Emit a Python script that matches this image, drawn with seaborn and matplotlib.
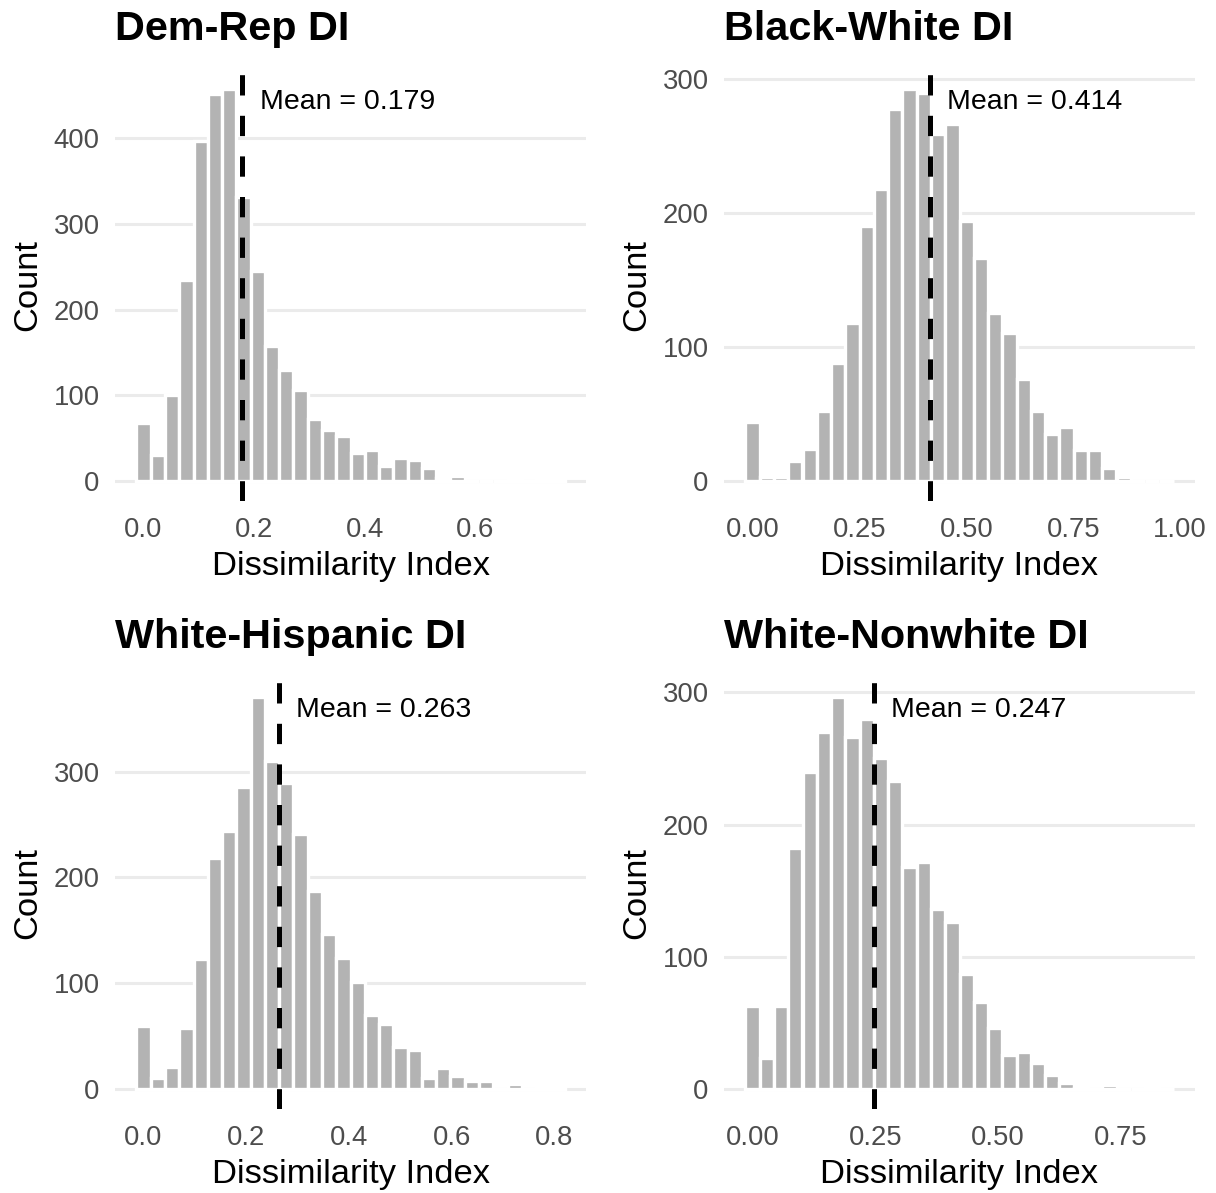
import numpy as np
import pandas as pd
import matplotlib
matplotlib.use("Agg")
import matplotlib.pyplot as plt
import seaborn as sns

# Histogram counts per 30 equal-width bins (bin centres run from x_min to x_max)
dem_rep_counts = [68, 30, 100, 234, 397, 451, 457, 331, 245, 158, 130, 106, 72, 59, 53,
                  33, 36, 18, 27, 24, 15, 4, 6, 0, 0, 0, 1, 0, 1, 1]
black_white_counts = [44, 3, 3, 15, 24, 52, 88, 118, 190, 218, 277, 292, 289, 259, 266,
                      194, 166, 125, 110, 76, 52, 35, 40, 23, 23, 10, 3, 0, 0, 0]
white_hispanic_counts = [60, 11, 21, 58, 123, 218, 244, 285, 370, 310, 289, 241, 187, 147, 124,
                         101, 70, 62, 40, 37, 11, 20, 13, 8, 8, 0, 5, 0, 1, 1]
white_nonwhite_counts = [63, 24, 63, 182, 240, 270, 296, 266, 280, 250, 233, 168, 172, 136, 126,
                         87, 66, 46, 26, 28, 20, 11, 5, 1, 0, 3, 0, 0, 1, 0]

titles = ["Dem-Rep DI", "Black-White DI", "White-Hispanic DI", "White-Nonwhite DI"]
x_min = [0.0, 0.0, 0.0, 0.0]
x_max = [0.749, 0.968, 0.806, 0.843]
means = [0.179, 0.414, 0.263, 0.247]
x_ticks = [[0.0, 0.2, 0.4, 0.6],
           [0.0, 0.25, 0.50, 0.75, 1.00],
           [0.0, 0.2, 0.4, 0.6, 0.8],
           [0.0, 0.25, 0.50, 0.75]]
x_tick_fmt = ["{:.1f}", "{:.2f}", "{:.1f}", "{:.2f}"]
y_ticks = [[0, 100, 200, 300, 400],
           [0, 100, 200, 300],
           [0, 100, 200, 300],
           [0, 100, 200, 300]]
all_counts = [dem_rep_counts, black_white_counts, white_hispanic_counts, white_nonwhite_counts]

sns.set_theme(style="white")
plt.rcParams["font.family"] = ["Liberation Sans", "DejaVu Sans"]

W, H = 1216, 1193
fig = plt.figure(figsize=(W / 100, H / 100), dpi=100)

# panel rectangles in pixels: left, top, right, bottom
panel_px = [(115, 69.7, 586, 500.6), (724, 69.7, 1195, 500.6),
            (115, 677.8, 586, 1108.9), (724, 677.8, 1195, 1108.9)]

BAR = "#B3B3B3"
GRID = "#EBEBEB"
TICK = "#4D4D4D"

for i in range(4):
    l, t, r, b = panel_px[i]
    ax = fig.add_axes([l / W, 1 - b / H, (r - l) / W, (b - t) / H])
    counts = np.array(all_counts[i], dtype=float)
    n = len(counts)
    w = (x_max[i] - x_min[i]) / (n - 1)
    centers = x_min[i] + w * np.arange(n)
    edges = [float(c - w / 2) for c in centers] + [float(centers[-1] + w / 2)]
    df = pd.DataFrame({"value": centers, "count": counts})

    sns.histplot(data=df, x="value", weights="count", bins=edges, ax=ax, color=BAR,
                 edgecolor="white", linewidth=2.4, alpha=1.0, zorder=2)

    ax.axvline(means[i], color="black", lw=3.6, linestyle=(0, (4.06, 4.06)), zorder=4)
    ax.annotate(f"Mean = {means[i]:.3f}", xy=(means[i], 0.908),
                xycoords=ax.get_xaxis_transform(), xytext=(12.5, 0),
                textcoords="offset points", ha="left", va="baseline",
                fontsize=20.5, color="black", zorder=5)

    span = n * w
    lo = centers[0] - w / 2
    ax.set_xlim(lo - 0.05 * span, lo + span + 0.05 * span)
    ymax = counts.max()
    ax.set_ylim(-0.05 * ymax, 1.05 * ymax)

    ax.set_xticks(x_ticks[i])
    ax.set_xticklabels([x_tick_fmt[i].format(v) for v in x_ticks[i]])
    ax.set_yticks(y_ticks[i])
    ax.set_yticklabels([str(v) for v in y_ticks[i]])
    ax.tick_params(axis="both", length=0, labelsize=19.8, labelcolor=TICK)
    ax.tick_params(axis="x", pad=11.5)
    ax.tick_params(axis="y", pad=11)

    ax.set_axisbelow(True)
    ax.grid(axis="y", color=GRID, linewidth=2.2)
    ax.grid(axis="x", visible=False)
    for s in ax.spines.values():
        s.set_visible(False)

    ax.set_xlabel("Dissimilarity Index", fontsize=24.8, color="black")
    ax.set_ylabel("Count", fontsize=24.8, color="black")
    ax.xaxis.set_label_coords(0.5, -0.117)
    ax.yaxis.set_label_coords(-0.153, 0.5)
    ax.set_title(titles[i], loc="left", fontsize=29.8, fontweight="bold",
                 color="black", pad=21.4)

fig.savefig("out.png", dpi=100, facecolor="white")
